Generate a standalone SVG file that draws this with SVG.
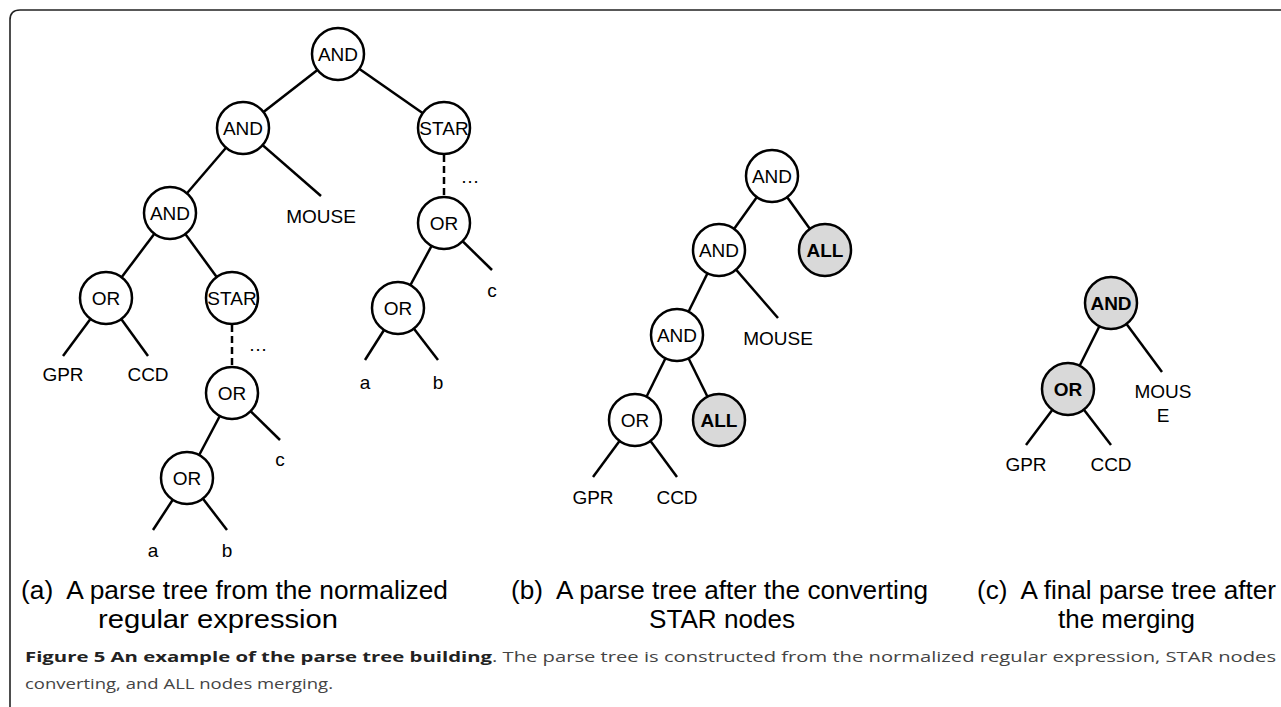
<svg xmlns="http://www.w3.org/2000/svg" width="1281" height="707" viewBox="0 0 1281 707">
<style>
.e{stroke:#000;stroke-width:2.5;fill:none}
.d{stroke:#000;stroke-width:2.5;fill:none;stroke-dasharray:7 4}
.n{fill:#fff;stroke:#000;stroke-width:2.5}
.g{fill:#d9d9d9;stroke:#000;stroke-width:2.5}
.t{font-family:"Liberation Sans",Arial,sans-serif;font-size:19px;fill:#000;text-anchor:middle;dominant-baseline:central}
.b{font-weight:bold}
.cap{font-family:"Liberation Sans",Arial,sans-serif;font-size:25px;fill:#000}
.fc{font-family:"Open Sans","Noto Sans",sans-serif;font-size:15px;fill:#444}
.fb{font-weight:bold;fill:#222}
</style>
<rect width="1281" height="707" fill="#fff"/>
<path d="M10,707 V20 Q10,10 20,10 H1281" fill="none" stroke="#222" stroke-width="1.6"/>
<g id="connectors">
<line class="e" x1="338" y1="54" x2="243" y2="128"/>
<line class="e" x1="338" y1="54" x2="444" y2="128"/>
<line class="e" x1="243" y1="128" x2="170" y2="213"/>
<line class="e" x1="243" y1="128" x2="321" y2="196"/>
<line class="e" x1="170" y1="213" x2="106" y2="298"/>
<line class="e" x1="170" y1="213" x2="232" y2="298"/>
<line class="e" x1="106" y1="298" x2="63" y2="356"/>
<line class="e" x1="106" y1="298" x2="148" y2="356"/>
<line class="d" x1="232" y1="325" x2="232" y2="367"/>
<line class="e" x1="232" y1="393" x2="187" y2="478"/>
<line class="e" x1="232" y1="393" x2="280" y2="440"/>
<line class="e" x1="187" y1="478" x2="153" y2="530"/>
<line class="e" x1="187" y1="478" x2="227" y2="530"/>
<line class="d" x1="444" y1="155" x2="444" y2="197"/>
<line class="e" x1="444" y1="223" x2="398" y2="308"/>
<line class="e" x1="444" y1="223" x2="492" y2="270"/>
<line class="e" x1="398" y1="308" x2="365" y2="360"/>
<line class="e" x1="398" y1="308" x2="438" y2="360"/>
<line class="e" x1="772" y1="176" x2="719" y2="250"/>
<line class="e" x1="772" y1="176" x2="825" y2="250"/>
<line class="e" x1="719" y1="250" x2="677" y2="335"/>
<line class="e" x1="719" y1="250" x2="778" y2="318"/>
<line class="e" x1="677" y1="335" x2="635" y2="420"/>
<line class="e" x1="677" y1="335" x2="719" y2="420"/>
<line class="e" x1="635" y1="420" x2="593" y2="477"/>
<line class="e" x1="635" y1="420" x2="677" y2="477"/>
<line class="e" x1="1111" y1="303" x2="1068" y2="389"/>
<line class="e" x1="1111" y1="303" x2="1162" y2="372"/>
<line class="e" x1="1068" y1="389" x2="1026" y2="445"/>
<line class="e" x1="1068" y1="389" x2="1111" y2="445"/>
</g>
<g id="a-and1"><circle class="n" cx="338" cy="54" r="26"/><text class="t" x="338" y="54">AND</text></g>
<g id="a-and2"><circle class="n" cx="243" cy="128" r="26"/><text class="t" x="243" y="128">AND</text></g>
<g id="a-star1"><circle class="n" cx="444" cy="128" r="26"/><text class="t" x="444" y="128">STAR</text></g>
<g id="a-and3"><circle class="n" cx="170" cy="213" r="26"/><text class="t" x="170" y="213">AND</text></g>
<g id="a-mouse"><text class="t" x="321" y="216">MOUSE</text></g>
<g id="a-or1"><circle class="n" cx="106" cy="298" r="26"/><text class="t" x="106" y="298">OR</text></g>
<g id="a-star2"><circle class="n" cx="232" cy="298" r="26"/><text class="t" x="232" y="298">STAR</text></g>
<g id="a-gpr"><text class="t" x="63" y="374">GPR</text></g>
<g id="a-ccd"><text class="t" x="148" y="374">CCD</text></g>
<g id="a-dots1"><text class="t" x="258" y="344">…</text></g>
<g id="a-or2"><circle class="n" cx="232" cy="393" r="26"/><text class="t" x="232" y="393">OR</text></g>
<g id="a-c1"><text class="t" x="280" y="459">c</text></g>
<g id="a-or3"><circle class="n" cx="187" cy="478" r="26"/><text class="t" x="187" y="478">OR</text></g>
<g id="a-a1"><text class="t" x="153" y="550">a</text></g>
<g id="a-b1"><text class="t" x="227" y="550">b</text></g>
<g id="a-dots2"><text class="t" x="470" y="176">…</text></g>
<g id="a-or4"><circle class="n" cx="444" cy="223" r="26"/><text class="t" x="444" y="223">OR</text></g>
<g id="a-c2"><text class="t" x="492" y="290">c</text></g>
<g id="a-or5"><circle class="n" cx="398" cy="308" r="26"/><text class="t" x="398" y="308">OR</text></g>
<g id="a-a2"><text class="t" x="365" y="382">a</text></g>
<g id="a-b2"><text class="t" x="438" y="382">b</text></g>
<g id="b-and1"><circle class="n" cx="772" cy="176" r="26"/><text class="t" x="772" y="176">AND</text></g>
<g id="b-and2"><circle class="n" cx="719" cy="250" r="26"/><text class="t" x="719" y="250">AND</text></g>
<g id="b-all1"><circle class="g" cx="825" cy="250" r="26"/><text class="t b" x="825" y="250">ALL</text></g>
<g id="b-and3"><circle class="n" cx="677" cy="335" r="26"/><text class="t" x="677" y="335">AND</text></g>
<g id="b-mouse"><text class="t" x="778" y="338">MOUSE</text></g>
<g id="b-or"><circle class="n" cx="635" cy="420" r="26"/><text class="t" x="635" y="420">OR</text></g>
<g id="b-all2"><circle class="g" cx="719" cy="420" r="26"/><text class="t b" x="719" y="420">ALL</text></g>
<g id="b-gpr"><text class="t" x="593" y="497">GPR</text></g>
<g id="b-ccd"><text class="t" x="677" y="497">CCD</text></g>
<g id="c-and"><circle class="g" cx="1111" cy="303" r="26"/><text class="t b" x="1111" y="303">AND</text></g>
<g id="c-or"><circle class="g" cx="1068" cy="389" r="26"/><text class="t b" x="1068" y="389">OR</text></g>
<g id="c-mouse"><text class="t" x="1163" y="391">MOUS</text><text class="t" x="1163" y="415">E</text></g>
<g id="c-gpr"><text class="t" x="1026" y="464">GPR</text></g>
<g id="c-ccd"><text class="t" x="1111" y="464">CCD</text></g>
<g id="captions">
<text class="cap" x="21" y="599" xml:space="preserve" textLength="427" lengthAdjust="spacingAndGlyphs">(a)  A parse tree from the normalized</text>
<text class="cap" x="98" y="628" textLength="240" lengthAdjust="spacingAndGlyphs">regular expression</text>
<text class="cap" x="511" y="599" xml:space="preserve" textLength="417" lengthAdjust="spacingAndGlyphs">(b)  A parse tree after the converting</text>
<text class="cap" x="649" y="628" textLength="146" lengthAdjust="spacingAndGlyphs">STAR nodes</text>
<text class="cap" x="977" y="599" xml:space="preserve" textLength="299" lengthAdjust="spacingAndGlyphs">(c)  A final parse tree after</text>
<text class="cap" x="1058" y="628" textLength="137" lengthAdjust="spacingAndGlyphs">the merging</text>
</g>
<g id="figure-caption">
<text class="fc fb" x="25" y="662" textLength="467" lengthAdjust="spacingAndGlyphs">Figure 5 An example of the parse tree building</text>
<text class="fc" x="492" y="662" textLength="784" lengthAdjust="spacingAndGlyphs">. The parse tree is constructed from the normalized regular expression, STAR nodes</text>
<text class="fc" x="25" y="689" textLength="308" lengthAdjust="spacingAndGlyphs">converting, and ALL nodes merging.</text>
</g>
</svg>
